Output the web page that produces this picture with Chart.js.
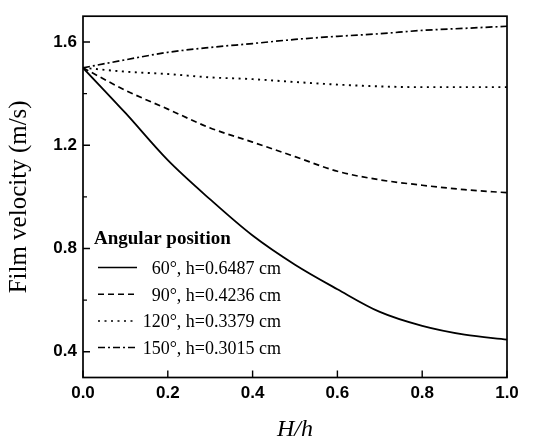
<!DOCTYPE html>
<html>
<head>
<meta charset="utf-8">
<script src="https://cdn.jsdelivr.net/npm/chart.js@4"></script>
<style>
html,body{margin:0;padding:0;background:#fff;}
canvas{display:block;}
</style>
</head>
<body>
<canvas id="c" width="535" height="442"></canvas>
<script>
// ---- data ----
const xValues = [0, 0.1, 0.2, 0.3, 0.4, 0.5, 0.6, 0.7, 0.8, 0.9, 1.0];
const v60  = [1.500, 1.325, 1.142, 0.990, 0.850, 0.737, 0.642, 0.554, 0.500, 0.466, 0.447];
const v90  = [1.500, 1.413, 1.340, 1.267, 1.212, 1.156, 1.099, 1.066, 1.045, 1.028, 1.016];
const v120 = [1.500, 1.485, 1.476, 1.463, 1.456, 1.445, 1.435, 1.428, 1.425, 1.425, 1.425];
const v150 = [1.500, 1.531, 1.560, 1.579, 1.594, 1.610, 1.622, 1.632, 1.645, 1.653, 1.661];
const seriesLabels = ['60°, h=0.6487 cm', '90°, h=0.4236 cm', '120°, h=0.3379 cm', '150°, h=0.3015 cm'];
const legendTitle = 'Angular position';
const xTicks = [0, 0.2, 0.4, 0.6, 0.8, 1.0];
const yTicksMajor = [0.4, 0.8, 1.2, 1.6];
const yTicksMinor = [0.6, 1.0, 1.4];
const xTitle = 'H/h';
const yTitle = 'Film velocity (m/s)';

const dashes = [[], [6, 4], [2, 4.5], [7, 3, 2, 3]];
const widths = [1.8, 1.7, 1.9, 1.7];
const seriesValues = [v60, v90, v120, v150];

const datasets = seriesValues.map((vals, i) => ({
  label: seriesLabels[i],
  data: xValues.map((x, j) => ({x: x, y: vals[j]})),
  borderColor: '#000',
  borderWidth: widths[i],
  borderDash: dashes[i],
  pointRadius: 0,
  fill: false,
  cubicInterpolationMode: 'monotone'
}));

const framePlugin = {
  id: 'frame',
  afterDraw(chart) {
    const ctx = chart.ctx;
    const a = chart.chartArea;
    const xs = chart.scales.x, ys = chart.scales.y;
    ctx.save();
    ctx.strokeStyle = '#000';
    ctx.lineWidth = 1.7;
    ctx.setLineDash([]);
    ctx.strokeRect(a.left, a.top, a.right - a.left, a.bottom - a.top);
    ctx.lineWidth = 1.4;
    ctx.beginPath();
    yTicksMajor.forEach(v => {
      const y = ys.getPixelForValue(v);
      ctx.moveTo(a.left, y); ctx.lineTo(a.left + 7, y);
    });
    yTicksMinor.forEach(v => {
      const y = ys.getPixelForValue(v);
      ctx.moveTo(a.left, y); ctx.lineTo(a.left + 4, y);
    });
    xTicks.forEach(v => {
      const x = xs.getPixelForValue(v);
      ctx.moveTo(x, a.bottom); ctx.lineTo(x, a.bottom - 7);
    });
    ctx.stroke();

    // legend
    ctx.fillStyle = '#000';
    ctx.font = 'bold 19px "Liberation Serif", "Times New Roman", serif';
    ctx.textAlign = 'left';
    ctx.textBaseline = 'alphabetic';
    ctx.fillText(legendTitle, 94, 244);
    ctx.font = '18px "Liberation Serif", "Times New Roman", serif';
    chart.data.datasets.forEach((ds, i) => {
      const base = 274 + i * 26.7;
      const ly = base - 6.5;
      ctx.lineWidth = 1.5;
      ctx.setLineDash(ds.borderDash || []);
      ctx.beginPath();
      ctx.moveTo(98, ly); ctx.lineTo(137, ly);
      ctx.stroke();
      ctx.setLineDash([]);
      ctx.textAlign = 'right';
      ctx.fillText(ds.label, 281, base);
    });
    ctx.restore();
  }
};

new Chart(document.getElementById('c'), {
  type: 'line',
  data: { datasets: datasets },
  options: {
    responsive: false,
    animation: false,
    devicePixelRatio: 1,
    layout: { padding: { left: 0, right: 28, top: 7, bottom: 0 } },
    plugins: { legend: { display: false }, tooltip: { enabled: false } },
    scales: {
      x: {
        type: 'linear',
        min: 0, max: 1,
        afterBuildTicks: s => { s.ticks = xTicks.map(v => ({value: v})); },
        afterFit: s => { s.height = 64.5; },
        grid: { display: false, drawTicks: false },
        border: { display: false },
        ticks: {
          padding: 6,
          color: '#000',
          font: { family: '"Liberation Sans", Arial, sans-serif', size: 17, weight: 'bold' },
          callback: v => Number(v).toFixed(1),
          maxRotation: 0
        },
        title: {
          display: true,
          text: xTitle,
          color: '#000',
          padding: { top: 0, bottom: 0 },
          font: { family: '"Liberation Serif", "Times New Roman", serif', size: 24, style: 'italic', lineHeight: 1 }
        }
      },
      y: {
        type: 'linear',
        min: 0.3, max: 1.7,
        afterBuildTicks: s => { s.ticks = yTicksMajor.map(v => ({value: v})); },
        afterFit: s => { s.width = 83; },
        grid: { display: false, drawTicks: false },
        border: { display: false },
        ticks: {
          padding: 6,
          color: '#000',
          font: { family: '"Liberation Sans", Arial, sans-serif', size: 17, weight: 'bold' },
          callback: v => Number(v).toFixed(1)
        },
        title: {
          display: true,
          text: yTitle,
          color: '#000',
          padding: { top: 4, bottom: 0 },
          font: { family: '"Liberation Serif", "Times New Roman", serif', size: 25, lineHeight: 1.2 }
        }
      }
    }
  },
  plugins: [framePlugin]
});
</script>
</body>
</html>
